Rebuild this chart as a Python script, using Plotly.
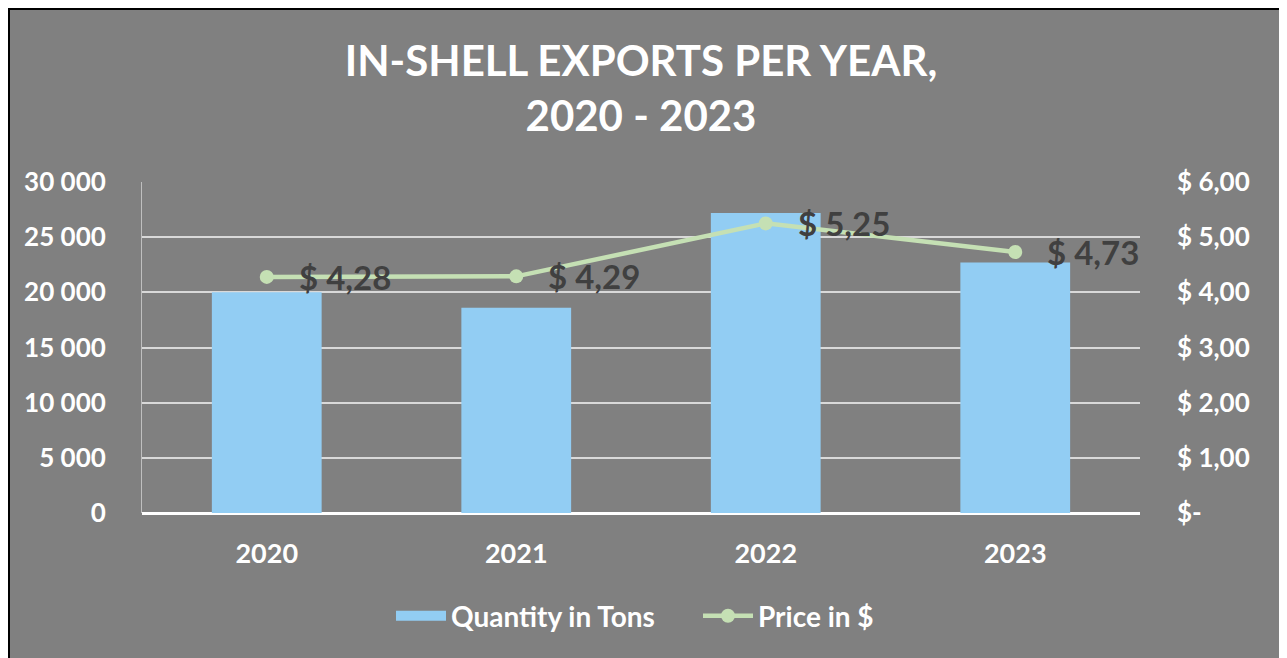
import plotly.graph_objects as go

years = ["2020", "2021", "2022", "2023"]
quantity_tons = [20000, 18600, 27200, 22700]
price_usd = [4.28, 4.29, 5.25, 4.73]
price_labels = ["$ 4,28", "$ 4,29", "$ 5,25", "$ 4,73"]

left_tickvals = [0, 5000, 10000, 15000, 20000, 25000, 30000]
left_ticktext = ["0", "5 000", "10 000", "15 000", "20 000", "25 000", "30 000"]
right_tickvals = [0, 1, 2, 3, 4, 5, 6]
right_ticktext = ["$-", "$ 1,00", "$ 2,00", "$ 3,00", "$ 4,00", "$ 5,00", "$ 6,00"]

# page body has an 8px margin, so the figure is offset by 8px on screen
OFF = 8
W, H = 1287 - OFF, 658 - OFF
L, R, T, B = 134, 147, 174, 145
pw, ph = W - L - R, H - T - B

def px_x(x):  # reference-screen pixel -> paper
    return (x - OFF - L) / pw

def px_y(y):
    return (H - B - (y - OFF)) / ph

FONT = "Lato"
WHITE = "#ffffff"
BAR = "#92cdf3"

fig = go.Figure()

fig.add_trace(go.Bar(
    x=years, y=quantity_tons, name="Quantity in Tons",
    marker=dict(color=BAR, line=dict(width=0)),
    width=0.44, yaxis="y", showlegend=False,
))

# legend-only swatch for the bars (wide rectangle like the reference)
fig.add_trace(go.Scatter(
    x=[None], y=[None], name="Quantity in Tons", mode="lines",
    line=dict(color=BAR, width=18), yaxis="y",
))

fig.add_trace(go.Scatter(
    x=years, y=price_usd, name="Price in $", yaxis="y2",
    mode="lines+markers",
    line=dict(color="#c5e0b4", width=4.5),
    marker=dict(color="#c5e0b4", size=14),
    cliponaxis=False,
))

# on a category axis, annotation x is the category index
annotations = [
    dict(x=i, y=p, xref="x", yref="y2", text=lab, showarrow=False,
         xanchor="left", yanchor="middle", xshift=30,
         font=dict(family=FONT, size=33, color="#404040", weight="bold"))
    for i, (p, lab) in enumerate(zip(price_usd, price_labels))
]

fig.update_layout(
    width=W, height=H,
    margin=dict(l=L, r=R, t=T, b=B),
    paper_bgcolor="#ffffff",
    plot_bgcolor="rgba(0,0,0,0)",
    font=dict(family=FONT, color=WHITE, size=22, weight="bold"),
    title=dict(
        text="IN-SHELL EXPORTS PER YEAR,<br>2020 - 2023",
        font=dict(family=FONT, size=42, color=WHITE, weight="bold"),
        x=0.5, xanchor="center", xref="paper",
        y=1 - 68 / H, yanchor="middle",
    ),
    annotations=annotations,
    xaxis=dict(
        type="category", categoryorder="array", categoryarray=years,
        range=[-0.5, len(years) - 0.5],
        showgrid=False, showline=False, ticks="",
        tickfont=dict(family=FONT, size=27, color=WHITE, weight="bold"),
        ticklabelstandoff=22,
    ),
    yaxis=dict(
        range=[0, 30000], tickvals=left_tickvals, ticktext=left_ticktext,
        showgrid=True, gridcolor="#d9d9d9", gridwidth=1.5,
        zeroline=True, zerolinecolor="#ffffff", zerolinewidth=2.5,
        showline=True, linecolor="#bfbfbf", linewidth=1,
        tickfont=dict(family=FONT, size=26, color=WHITE, weight="bold"),
        ticklabelstandoff=30,
    ),
    yaxis2=dict(
        range=[0, 6], tickvals=right_tickvals, ticktext=right_ticktext,
        overlaying="y", side="right", showgrid=False, zeroline=False,
        tickfont=dict(family=FONT, size=26, color=WHITE, weight="bold"),
        ticklabelstandoff=36,
    ),
    legend=dict(
        orientation="h", x=px_x(391), xanchor="left",
        y=px_y(616), yanchor="middle",
        font=dict(family=FONT, size=28, color=WHITE, weight="bold"),
        bgcolor="rgba(0,0,0,0)", itemwidth=50,
        entrywidth=242, entrywidthmode="pixels",
    ),
    shapes=[dict(
        type="rect", xref="paper", yref="paper", layer="below",
        x0=px_x(9), x1=px_x(1282), y0=px_y(680), y1=px_y(9),
        fillcolor="#808080", line=dict(color="#000000", width=2),
    )],
)

fig.write_html("out.html")
